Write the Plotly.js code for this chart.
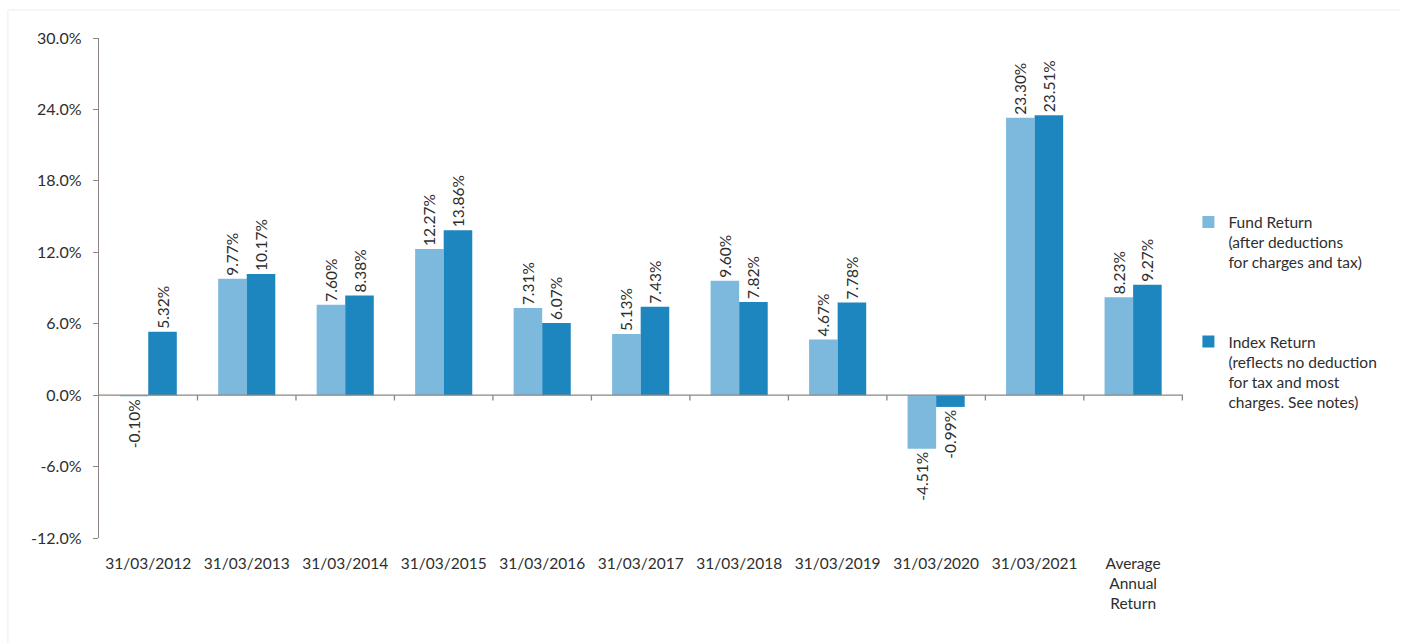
<!DOCTYPE html>
<html>
<head>
<meta charset="utf-8">
<script src="https://cdn.plot.ly/plotly-3.0.1.min.js"></script>
<style>html,body{margin:0;padding:0;background:#fff;}#chart{width:1408px;height:644px;}</style>
</head>
<body>
<div id="chart"></div>
<script>
const categories = ["31/03/2012","31/03/2013","31/03/2014","31/03/2015","31/03/2016","31/03/2017","31/03/2018","31/03/2019","31/03/2020","31/03/2021","Average<br>Annual<br>Return"];
const fundReturn = [-0.10, 9.77, 7.60, 12.27, 7.31, 5.13, 9.60, 4.67, -4.51, 23.30, 8.23];
const indexReturn = [5.32, 10.17, 8.38, 13.86, 6.07, 7.43, 7.82, 7.78, -0.99, 23.51, 9.27];
const fundName = "Fund Return<br>(after deductions<br>for charges and tax)";
const indexName = "Index Return<br>(reflects no deduction<br>for tax and most<br>charges. See notes)";
const yTicks = [-12, -6, 0, 6, 12, 18, 24, 30];

const font = "Lato, 'Open Sans', sans-serif";
const textColor = "#2e2e2e";
const fmt = v => v.toFixed(2) + "%";

const traces = [
  {type:"bar", name:fundName, legendgroup:"fund", x:categories, y:fundReturn, marker:{color:"#7cb9dd"},
   text:fundReturn.map(fmt), textposition:"outside", textangle:-90, constraintext:"none",
   cliponaxis:false, textfont:{family:font,size:15.5,color:textColor}, hoverinfo:"skip"},
  {type:"bar", name:indexName, legendgroup:"index", x:categories, y:indexReturn, marker:{color:"#1e86bf"},
   text:indexReturn.map(fmt), textposition:"outside", textangle:-90, constraintext:"none",
   cliponaxis:false, textfont:{family:font,size:15.5,color:textColor}, hoverinfo:"skip"}
];

const shapes = [
  {type:"line", xref:"paper", yref:"y", x0:0, x1:1, y0:0, y1:0, line:{color:"#8c8582", width:1.3}},
  {type:"line", xref:"paper", yref:"paper", x0:-0.084, x1:1.2, y0:1.056, y1:1.056, line:{color:"#ececec", width:1}},
  {type:"line", xref:"paper", yref:"paper", x0:-0.084, x1:-0.084, y0:1.056, y1:-0.21, line:{color:"#ececec", width:1}}
];
for (let i = 1; i <= categories.length; i++) {
  shapes.push({type:"line", xref:"x", yref:"y", x0:i-0.5, x1:i-0.5, y0:0, y1:-0.45, line:{color:"#8c8582", width:1.3}});
}

const layout = {
  width:1408, height:644,
  margin:{l:99, r:225, t:38, b:106},
  paper_bgcolor:"#fff", plot_bgcolor:"#fff",
  barmode:"group", bargap:0.42, bargroupgap:0,
  font:{family:font, size:15.5, color:textColor},
  showlegend:true,
  legend:{x:1.005, y:0.665, xanchor:"left", yanchor:"top", valign:"top", traceorder:"grouped",
          font:{family:font,size:15.5,color:textColor},
          tracegroupgap:56, itemwidth:30, bgcolor:"rgba(0,0,0,0)"},
  xaxis:{type:"category", showline:false, ticks:"", showgrid:false, zeroline:false,
         tickfont:{family:font,size:15.5,color:textColor}, tickangle:0, ticklabelstandoff:14, fixedrange:true},
  yaxis:{range:[-12,30], tickvals:yTicks, ticktext:yTicks.map(v=>v.toFixed(1)+"%"),
         showline:true, linecolor:"#8c8582", linewidth:1.3, ticks:"outside", ticklen:5, tickcolor:"#8c8582",
         ticklabelstandoff:8,
         showgrid:false, zeroline:false, tickfont:{family:font,size:16,color:textColor}, fixedrange:true},
  shapes:shapes
};

Plotly.newPlot("chart", traces, layout, {displayModeBar:false, staticPlot:true});
</script>
</body>
</html>
